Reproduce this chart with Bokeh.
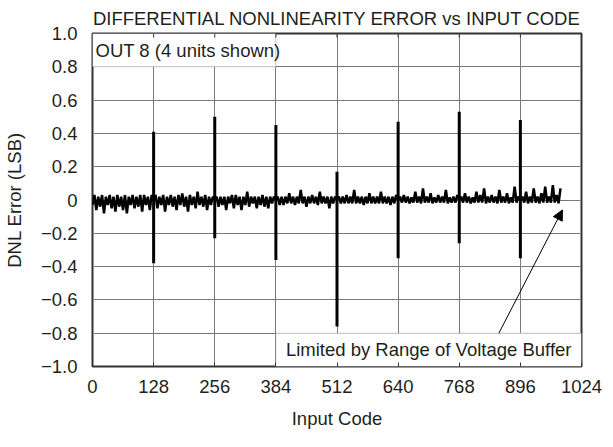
import math
from bokeh.plotting import figure
from bokeh.models import (FixedTicker, CustomJSTickFormatter, BoxAnnotation, Arrow,
                          NormalHead, Label)
from bokeh.embed import file_html
from bokeh.resources import INLINE

# ---------------- data ----------------
title_text = "DIFFERENTIAL NONLINEARITY ERROR vs INPUT CODE"
x_label = "Input Code"
y_label = "DNL Error (LSB)"
x_ticks = [0, 128, 256, 384, 512, 640, 768, 896, 1024]
y_ticks = [-1.0, -0.8, -0.6, -0.4, -0.2, 0.0, 0.2, 0.4, 0.6, 0.8, 1.0]

# input codes sampled every 4 codes, 0 .. 980
codes = list(range(0, 984, 4))
dnl = [
    # 0 .. 124
    -0.03, 0.03, -0.06, 0.02, -0.04, 0.03, -0.08, 0.02, -0.03, 0.03, -0.05, 0.02, -0.07, 0.03, -0.04, 0.02,
    -0.06, 0.03, -0.08, 0.02, -0.03, 0.03, -0.05, 0.02, -0.04, 0.03, -0.07, 0.03, -0.03, 0.02, -0.06, 0.03,
    # 128 .. 252
    0.00, 0.03, -0.05, 0.02, -0.03, 0.03, -0.07, 0.02, -0.03, 0.03, -0.04, 0.02, -0.06, 0.03, -0.03, 0.04,
    -0.04, 0.02, -0.07, 0.03, -0.03, 0.02, -0.05, 0.05, -0.03, 0.02, -0.04, 0.03, -0.06, 0.02, -0.03, 0.02,
    # 256 .. 380
    0.00, 0.02, -0.04, 0.02, -0.03, 0.02, -0.06, 0.02, -0.02, 0.03, -0.05, 0.03, -0.03, 0.02, -0.06, 0.02,
    -0.03, 0.05, -0.04, 0.02, -0.02, 0.02, -0.05, 0.02, -0.03, 0.03, -0.04, 0.02, -0.05, 0.02, -0.02, 0.02,
    # 384 .. 508
    0.00, 0.02, -0.03, 0.02, -0.03, 0.02, -0.02, 0.04, -0.02, 0.02, -0.03, 0.02, -0.02, 0.06, -0.02, 0.02,
    -0.04, 0.02, -0.02, 0.03, -0.02, 0.02, -0.03, 0.05, -0.02, 0.02, -0.02, 0.02, -0.05, 0.02, -0.02, 0.02,
    # 512 .. 636
    0.00, 0.02, -0.02, 0.02, -0.02, 0.03, -0.02, 0.02, -0.02, 0.06, -0.02, 0.02, -0.02, 0.02, -0.03, 0.02,
    -0.02, 0.04, -0.02, 0.02, -0.02, 0.02, -0.02, 0.05, -0.02, 0.02, -0.02, 0.02, -0.03, 0.02, -0.02, 0.03,
    # 640 .. 764
    0.00, 0.02, -0.015, 0.03, -0.015, 0.02, -0.02, 0.015, -0.015, 0.05, -0.015, 0.02, -0.02, 0.07, -0.015, 0.02,
    -0.015, 0.04, -0.02, 0.015, -0.015, 0.03, -0.015, 0.02, -0.015, 0.06, -0.02, 0.015, -0.015, 0.02, -0.015, 0.03,
    # 768 .. 892
    0.00, 0.02, -0.015, 0.04, -0.015, 0.02, -0.02, 0.015, -0.015, 0.05, -0.015, 0.03, -0.015, 0.07, -0.02, 0.02,
    -0.015, 0.03, -0.015, 0.02, -0.02, 0.06, -0.015, 0.02, -0.015, 0.04, -0.02, 0.015, -0.015, 0.08, -0.015, 0.02,
    # 896 .. 980
    0.00, 0.02, -0.015, 0.05, -0.02, 0.02, -0.015, 0.07, -0.015, 0.02, -0.02, 0.04, -0.015, 0.08, -0.015, 0.02,
    -0.015, 0.09, -0.015, 0.03, -0.02, 0.07,
]

# major-carry transitions
spike_codes = [128, 256, 384, 512, 640, 768, 896]
spike_high = [0.41, 0.50, 0.45, 0.17, 0.47, 0.53, 0.48]
spike_low = [-0.38, -0.23, -0.36, -0.76, -0.35, -0.26, -0.35]

note_top = "OUT 8 (4 units shown)"
note_bottom = "Limited by Range of Voltage Buffer"

# ---------------- styling ----------------
FONT = "Liberation Sans"
FS = "18.5px"
TXT = "#231f20"
GRID = "#7a7a7a"

p = figure(width=604, height=431, x_range=(0, 1024), y_range=(-1.0, 1.0),
           output_backend="svg", toolbar_location=None,
           min_border_left=85, min_border_right=23, min_border_top=31, min_border_bottom=65)
p.background_fill_color = "white"
p.border_fill_color = "white"
p.outline_line_color = "#333333"
p.outline_line_width = 2

p.title.text = title_text
p.title.align = "center"
p.title.offset = 5
p.title.text_font = FONT
p.title.text_font_size = "18.5px"
p.title.text_font_style = "normal"
p.title.text_color = TXT
p.title.standoff = 10

p.xaxis.ticker = FixedTicker(ticks=x_ticks)
p.yaxis.ticker = FixedTicker(ticks=y_ticks)
p.yaxis.formatter = CustomJSTickFormatter(code="""
    if (Math.abs(tick) < 1e-9) return "0";
    const s = Math.abs(tick).toFixed(1);
    return tick < 0 ? "\\u2212" + s : s;
""")
for ax in (p.xaxis, p.yaxis):
    ax.axis_line_color = None
    ax.major_tick_out = 0
    ax.minor_tick_in = 0
    ax.minor_tick_out = 0
    ax.major_label_text_font = FONT
    ax.major_label_text_font_size = FS
    ax.major_label_text_color = TXT
    ax.axis_label_text_font = FONT
    ax.axis_label_text_font_size = FS
    ax.axis_label_text_font_style = "normal"
    ax.axis_label_text_color = TXT
p.xaxis.major_tick_in = 4
p.xaxis.major_tick_line_color = "#333333"
p.yaxis.major_tick_in = 0
p.xaxis.axis_label = x_label
p.yaxis.axis_label = y_label
p.xaxis.major_label_standoff = 13
p.xaxis.axis_label_standoff = 12
p.yaxis.major_label_standoff = 15
p.yaxis.axis_label_standoff = 13

p.xgrid.ticker = FixedTicker(ticks=x_ticks)
p.ygrid.ticker = FixedTicker(ticks=y_ticks)
p.grid.grid_line_color = GRID
p.grid.grid_line_width = 1

# white label boxes that hide the grid
box_top = BoxAnnotation(left=x_ticks[0], right=x_ticks[3], bottom=y_ticks[-2], top=y_ticks[-1],
                        fill_color="white", fill_alpha=1, line_color=GRID, line_width=1,
                        level="underlay")
box_bot = BoxAnnotation(left=x_ticks[3], right=x_ticks[-1], bottom=y_ticks[0], top=y_ticks[1],
                        fill_color="white", fill_alpha=1, line_color=GRID, line_width=1,
                        level="underlay")
p.add_layout(box_top)
p.add_layout(box_bot)

# inward tick marks along the top edge
p.ray(x=x_ticks[1:-1], y=[y_ticks[-1]] * (len(x_ticks) - 2), length=4, length_units="screen",
      angle=-math.pi / 2, line_color="#333333", line_width=1)

# data
p.line(codes, dnl, line_color="black", line_width=2.5)
p.segment(x0=spike_codes, y0=spike_low, x1=spike_codes, y1=spike_high,
          line_color="black", line_width=3)

p.add_layout(Label(x=x_ticks[0], y=(y_ticks[-1] + y_ticks[-2]) / 2, x_offset=3,
                   text=note_top, text_font=FONT, text_font_size=FS,
                   text_color=TXT, text_baseline="middle"))
p.add_layout(Label(x=(x_ticks[3] + x_ticks[-1]) / 2, y=(y_ticks[0] + y_ticks[1]) / 2,
                   text=note_bottom, text_font=FONT, text_font_size=FS,
                   text_color=TXT, text_baseline="middle", text_align="center"))

p.add_layout(Arrow(end=NormalHead(size=10, fill_color="black", line_color="black"),
                   x_start=851, y_start=y_ticks[1], x_end=codes[-1] + 4, y_end=-0.06,
                   line_color="black", line_width=1))

open("out.html", "w").write(file_html(p, INLINE))
